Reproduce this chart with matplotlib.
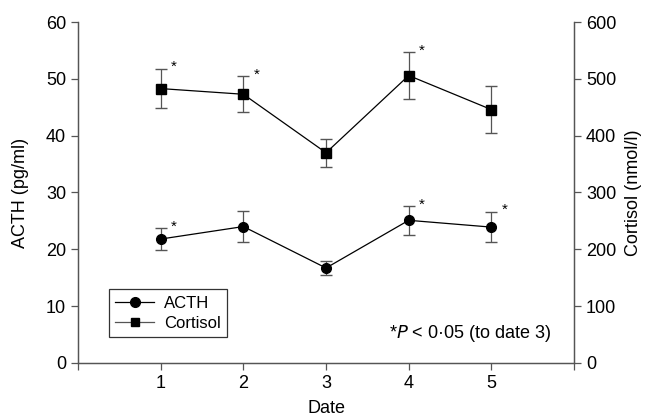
import matplotlib.pyplot as plt
from matplotlib.lines import Line2D

plt.rcParams["font.family"] = ["Liberation Sans", "DejaVu Sans"]

dates = [1, 2, 3, 4, 5]
acth = [21.8, 24.0, 16.7, 25.1, 23.9]
acth_err = [1.9, 2.7, 1.3, 2.5, 2.7]
cortisol = [483, 473, 370, 506, 446]
cortisol_err = [35, 32, 25, 41, 41]
acth_sig = [1, 4, 5]
cortisol_sig = [1, 2, 4]

fig = plt.figure(figsize=(6.45, 4.18), dpi=100)
ax = fig.add_axes([0.121, 0.132, 0.769, 0.815])
ax2 = ax.twinx()

ax.errorbar(dates, acth, yerr=acth_err, color="black", marker="o", markersize=7,
            linewidth=0.9, ecolor="#555555", elinewidth=0.9, capsize=4)
ax2.errorbar(dates, cortisol, yerr=cortisol_err, color="black", marker="s", markersize=7,
             linewidth=0.9, ecolor="#555555", elinewidth=0.9, capsize=4)

for d in acth_sig:
    i = dates.index(d)
    ax.text(d + 0.16, acth[i] + acth_err[i] + 0.3, "*", fontsize=11, ha="center", va="center")
for d in cortisol_sig:
    i = dates.index(d)
    ax2.text(d + 0.16, cortisol[i] + cortisol_err[i] + 3, "*", fontsize=11, ha="center", va="center")

ax.set_xlim(0, 6)
ax.set_ylim(0, 60)
ax2.set_ylim(0, 600)
ax.set_xticks([0, 1, 2, 3, 4, 5, 6])
ax.set_xticklabels(["", "1", "2", "3", "4", "5", ""])
ax.set_yticks(range(0, 61, 10))
ax2.set_yticks(range(0, 601, 100))

for a in (ax, ax2):
    a.spines["top"].set_visible(False)
    for s in ("left", "right", "bottom"):
        a.spines[s].set_color("#555555")
        a.spines[s].set_linewidth(0.9)
    a.tick_params(direction="out", length=5, width=0.9, color="#555555", labelsize=13)

ax.set_xlabel("Date", fontsize=13, labelpad=6)
ax.set_ylabel("ACTH (pg/ml)", fontsize=13, labelpad=12)
ax2.set_ylabel("Cortisol (nmol/l)", fontsize=13, labelpad=6)

handles = [
    Line2D([], [], color="black", marker="o", markersize=7, linewidth=0.9),
    Line2D([], [], color="#555555", marker="s", markersize=6, markerfacecolor="black",
           markeredgecolor="black", linewidth=0.9),
]
leg = ax.legend(handles, ["ACTH", "Cortisol"], loc="lower left",
                bbox_to_anchor=(0.045, 0.05), fontsize=12, fancybox=False,
                edgecolor="#333333", framealpha=1, handlelength=2.3,
                borderpad=0.4, labelspacing=0.3, handletextpad=0.6)
leg.get_frame().set_linewidth(0.9)

ax.text(0.955, 0.085, "*$P$ < 0·05 (to date 3)", transform=ax.transAxes,
        ha="right", va="center", fontsize=13)

fig.savefig("out.png", dpi=100)
